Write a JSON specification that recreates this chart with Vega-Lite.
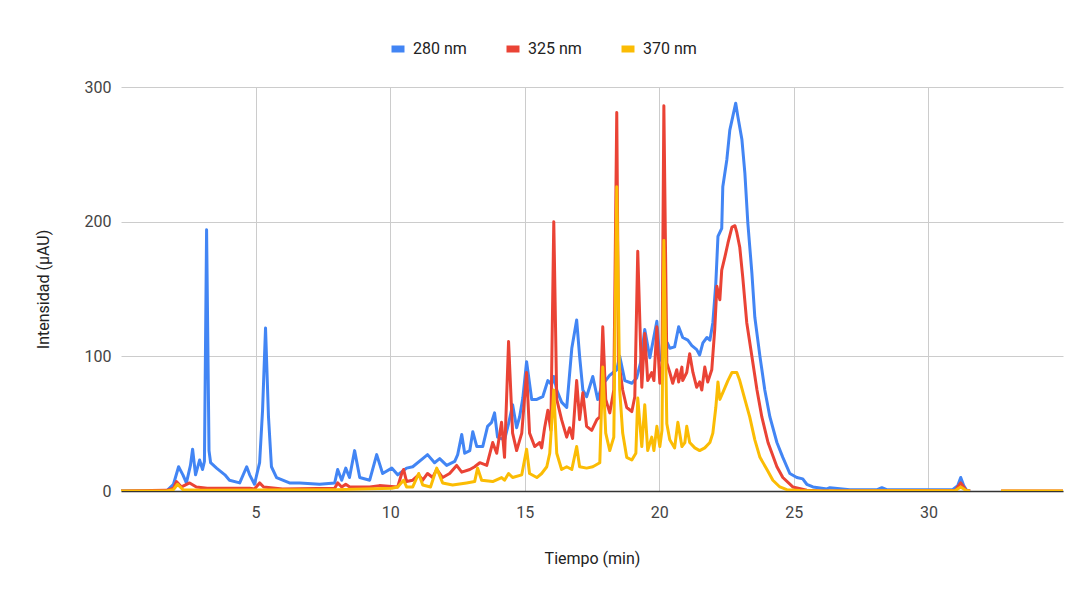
{
  "$schema": "https://vega.github.io/schema/vega-lite/v6.json",
  "width": 942,
  "height": 404,
  "autosize": {"type": "none"},
  "padding": {"left": 121, "top": 87, "right": 18, "bottom": 104},
  "background": "white",
  "config": {
    "font": "Roboto",
    "view": {"stroke": null}
  },
  "data": {"values": [
{"s":"280 nm","g":1,"t":0,"v":0},{"s":"280 nm","g":1,"t":1.69,"v":0},{"s":"280 nm","g":1,"t":1.95,"v":5},{"s":"280 nm","g":1,"t":2.14,"v":18},{"s":"280 nm","g":1,"t":2.3,"v":12},{"s":"280 nm","g":1,"t":2.43,"v":6},{"s":"280 nm","g":1,"t":2.58,"v":19},{"s":"280 nm","g":1,"t":2.66,"v":31},{"s":"280 nm","g":1,"t":2.77,"v":12},{"s":"280 nm","g":1,"t":2.92,"v":23},{"s":"280 nm","g":1,"t":3.03,"v":16},{"s":"280 nm","g":1,"t":3.1,"v":22},{"s":"280 nm","g":1,"t":3.18,"v":194},{"s":"280 nm","g":1,"t":3.27,"v":30},{"s":"280 nm","g":1,"t":3.33,"v":21},{"s":"280 nm","g":1,"t":3.55,"v":17},{"s":"280 nm","g":1,"t":3.86,"v":12},{"s":"280 nm","g":1,"t":4.03,"v":8},{"s":"280 nm","g":1,"t":4.41,"v":6},{"s":"280 nm","g":1,"t":4.67,"v":18},{"s":"280 nm","g":1,"t":4.78,"v":12},{"s":"280 nm","g":1,"t":4.96,"v":5},{"s":"280 nm","g":1,"t":5.15,"v":21},{"s":"280 nm","g":1,"t":5.26,"v":60},{"s":"280 nm","g":1,"t":5.37,"v":121},{"s":"280 nm","g":1,"t":5.48,"v":55},{"s":"280 nm","g":1,"t":5.59,"v":18},{"s":"280 nm","g":1,"t":5.78,"v":10},{"s":"280 nm","g":1,"t":6.26,"v":6},{"s":"280 nm","g":1,"t":6.64,"v":6},{"s":"280 nm","g":1,"t":7.38,"v":5},{"s":"280 nm","g":1,"t":7.94,"v":6},{"s":"280 nm","g":1,"t":8.05,"v":16},{"s":"280 nm","g":1,"t":8.2,"v":8},{"s":"280 nm","g":1,"t":8.35,"v":17},{"s":"280 nm","g":1,"t":8.49,"v":10},{"s":"280 nm","g":1,"t":8.68,"v":30},{"s":"280 nm","g":1,"t":8.87,"v":10},{"s":"280 nm","g":1,"t":9.24,"v":8},{"s":"280 nm","g":1,"t":9.5,"v":27},{"s":"280 nm","g":1,"t":9.72,"v":13},{"s":"280 nm","g":1,"t":10.06,"v":17},{"s":"280 nm","g":1,"t":10.28,"v":12},{"s":"280 nm","g":1,"t":10.35,"v":13},{"s":"280 nm","g":1,"t":10.61,"v":17},{"s":"280 nm","g":1,"t":10.84,"v":18},{"s":"280 nm","g":1,"t":11.21,"v":24},{"s":"280 nm","g":1,"t":11.39,"v":27},{"s":"280 nm","g":1,"t":11.65,"v":21},{"s":"280 nm","g":1,"t":11.84,"v":24},{"s":"280 nm","g":1,"t":12.1,"v":19},{"s":"280 nm","g":1,"t":12.4,"v":22},{"s":"280 nm","g":1,"t":12.51,"v":27},{"s":"280 nm","g":1,"t":12.66,"v":42},{"s":"280 nm","g":1,"t":12.77,"v":28},{"s":"280 nm","g":1,"t":12.96,"v":30},{"s":"280 nm","g":1,"t":13.07,"v":44},{"s":"280 nm","g":1,"t":13.22,"v":33},{"s":"280 nm","g":1,"t":13.44,"v":33},{"s":"280 nm","g":1,"t":13.62,"v":48},{"s":"280 nm","g":1,"t":13.77,"v":51},{"s":"280 nm","g":1,"t":13.88,"v":58},{"s":"280 nm","g":1,"t":13.99,"v":40},{"s":"280 nm","g":1,"t":14.25,"v":38},{"s":"280 nm","g":1,"t":14.4,"v":50},{"s":"280 nm","g":1,"t":14.55,"v":64},{"s":"280 nm","g":1,"t":14.7,"v":47},{"s":"280 nm","g":1,"t":14.81,"v":55},{"s":"280 nm","g":1,"t":14.93,"v":69},{"s":"280 nm","g":1,"t":15.07,"v":96},{"s":"280 nm","g":1,"t":15.26,"v":68},{"s":"280 nm","g":1,"t":15.45,"v":68},{"s":"280 nm","g":1,"t":15.67,"v":70},{"s":"280 nm","g":1,"t":15.86,"v":82},{"s":"280 nm","g":1,"t":16.0,"v":79},{"s":"280 nm","g":1,"t":16.08,"v":85},{"s":"280 nm","g":1,"t":16.19,"v":75},{"s":"280 nm","g":1,"t":16.37,"v":66},{"s":"280 nm","g":1,"t":16.56,"v":62},{"s":"280 nm","g":1,"t":16.75,"v":106},{"s":"280 nm","g":1,"t":16.93,"v":127},{"s":"280 nm","g":1,"t":17.04,"v":100},{"s":"280 nm","g":1,"t":17.16,"v":75},{"s":"280 nm","g":1,"t":17.3,"v":70},{"s":"280 nm","g":1,"t":17.53,"v":85},{"s":"280 nm","g":1,"t":17.71,"v":68},{"s":"280 nm","g":1,"t":17.9,"v":80},{"s":"280 nm","g":1,"t":18.01,"v":82},{"s":"280 nm","g":1,"t":18.16,"v":86},{"s":"280 nm","g":1,"t":18.42,"v":90},{"s":"280 nm","g":1,"t":18.53,"v":100},{"s":"280 nm","g":1,"t":18.72,"v":82},{"s":"280 nm","g":1,"t":18.98,"v":80},{"s":"280 nm","g":1,"t":19.16,"v":84},{"s":"280 nm","g":1,"t":19.3,"v":95},{"s":"280 nm","g":1,"t":19.46,"v":120},{"s":"280 nm","g":1,"t":19.65,"v":99},{"s":"280 nm","g":1,"t":19.91,"v":126},{"s":"280 nm","g":1,"t":20.02,"v":97},{"s":"280 nm","g":1,"t":20.17,"v":100},{"s":"280 nm","g":1,"t":20.3,"v":110},{"s":"280 nm","g":1,"t":20.39,"v":106},{"s":"280 nm","g":1,"t":20.57,"v":107},{"s":"280 nm","g":1,"t":20.72,"v":122},{"s":"280 nm","g":1,"t":20.87,"v":114},{"s":"280 nm","g":1,"t":21.06,"v":112},{"s":"280 nm","g":1,"t":21.21,"v":108},{"s":"280 nm","g":1,"t":21.39,"v":105},{"s":"280 nm","g":1,"t":21.5,"v":101},{"s":"280 nm","g":1,"t":21.62,"v":110},{"s":"280 nm","g":1,"t":21.77,"v":114},{"s":"280 nm","g":1,"t":21.88,"v":112},{"s":"280 nm","g":1,"t":21.99,"v":125},{"s":"280 nm","g":1,"t":22.1,"v":154},{"s":"280 nm","g":1,"t":22.18,"v":189},{"s":"280 nm","g":1,"t":22.32,"v":195},{"s":"280 nm","g":1,"t":22.36,"v":226},{"s":"280 nm","g":1,"t":22.51,"v":246},{"s":"280 nm","g":1,"t":22.62,"v":268},{"s":"280 nm","g":1,"t":22.73,"v":278},{"s":"280 nm","g":1,"t":22.84,"v":288},{"s":"280 nm","g":1,"t":22.92,"v":278},{"s":"280 nm","g":1,"t":23.07,"v":261},{"s":"280 nm","g":1,"t":23.18,"v":236},{"s":"280 nm","g":1,"t":23.29,"v":199},{"s":"280 nm","g":1,"t":23.44,"v":162},{"s":"280 nm","g":1,"t":23.55,"v":129},{"s":"280 nm","g":1,"t":23.74,"v":100},{"s":"280 nm","g":1,"t":23.92,"v":75},{"s":"280 nm","g":1,"t":24.11,"v":55},{"s":"280 nm","g":1,"t":24.37,"v":36},{"s":"280 nm","g":1,"t":24.59,"v":25},{"s":"280 nm","g":1,"t":24.85,"v":13},{"s":"280 nm","g":1,"t":25.11,"v":10},{"s":"280 nm","g":1,"t":25.33,"v":9},{"s":"280 nm","g":1,"t":25.48,"v":5},{"s":"280 nm","g":1,"t":25.71,"v":3},{"s":"280 nm","g":1,"t":26.23,"v":1.5},{"s":"280 nm","g":1,"t":26.34,"v":2.5},{"s":"280 nm","g":1,"t":27.08,"v":1},{"s":"280 nm","g":1,"t":28.1,"v":1},{"s":"280 nm","g":1,"t":28.27,"v":2.5},{"s":"280 nm","g":1,"t":28.45,"v":1},{"s":"280 nm","g":1,"t":30.9,"v":1},{"s":"280 nm","g":1,"t":31.09,"v":4},{"s":"280 nm","g":1,"t":31.2,"v":10},{"s":"280 nm","g":1,"t":31.31,"v":4},{"s":"280 nm","g":1,"t":31.42,"v":0.5},{"s":"280 nm","g":1,"t":31.55,"v":0},
{"s":"325 nm","g":1,"t":0,"v":0},{"s":"325 nm","g":1,"t":1.69,"v":0.5},{"s":"325 nm","g":1,"t":1.95,"v":2},{"s":"325 nm","g":1,"t":2.06,"v":7},{"s":"325 nm","g":1,"t":2.25,"v":3},{"s":"325 nm","g":1,"t":2.55,"v":6},{"s":"325 nm","g":1,"t":2.8,"v":3},{"s":"325 nm","g":1,"t":3.2,"v":2},{"s":"325 nm","g":1,"t":4.78,"v":2},{"s":"325 nm","g":1,"t":4.96,"v":1.5},{"s":"325 nm","g":1,"t":5.15,"v":6},{"s":"325 nm","g":1,"t":5.3,"v":3},{"s":"325 nm","g":1,"t":6.0,"v":1.5},{"s":"325 nm","g":1,"t":7.94,"v":2},{"s":"325 nm","g":1,"t":8.05,"v":6},{"s":"325 nm","g":1,"t":8.2,"v":3},{"s":"325 nm","g":1,"t":8.35,"v":5},{"s":"325 nm","g":1,"t":8.5,"v":3},{"s":"325 nm","g":1,"t":9.24,"v":3},{"s":"325 nm","g":1,"t":9.6,"v":4},{"s":"325 nm","g":1,"t":10.28,"v":3},{"s":"325 nm","g":1,"t":10.43,"v":13},{"s":"325 nm","g":1,"t":10.5,"v":16},{"s":"325 nm","g":1,"t":10.61,"v":7},{"s":"325 nm","g":1,"t":10.84,"v":8},{"s":"325 nm","g":1,"t":11.06,"v":12},{"s":"325 nm","g":1,"t":11.21,"v":8},{"s":"325 nm","g":1,"t":11.39,"v":13},{"s":"325 nm","g":1,"t":11.58,"v":10},{"s":"325 nm","g":1,"t":11.73,"v":16},{"s":"325 nm","g":1,"t":11.95,"v":10},{"s":"325 nm","g":1,"t":12.21,"v":13},{"s":"325 nm","g":1,"t":12.47,"v":19},{"s":"325 nm","g":1,"t":12.66,"v":14},{"s":"325 nm","g":1,"t":12.96,"v":16},{"s":"325 nm","g":1,"t":13.14,"v":18},{"s":"325 nm","g":1,"t":13.33,"v":21},{"s":"325 nm","g":1,"t":13.59,"v":19},{"s":"325 nm","g":1,"t":13.81,"v":36},{"s":"325 nm","g":1,"t":13.96,"v":28},{"s":"325 nm","g":1,"t":14.14,"v":51},{"s":"325 nm","g":1,"t":14.25,"v":25},{"s":"325 nm","g":1,"t":14.4,"v":111},{"s":"325 nm","g":1,"t":14.55,"v":43},{"s":"325 nm","g":1,"t":14.7,"v":30},{"s":"325 nm","g":1,"t":14.89,"v":43},{"s":"325 nm","g":1,"t":15.07,"v":88},{"s":"325 nm","g":1,"t":15.18,"v":43},{"s":"325 nm","g":1,"t":15.37,"v":33},{"s":"325 nm","g":1,"t":15.56,"v":36},{"s":"325 nm","g":1,"t":15.63,"v":32},{"s":"325 nm","g":1,"t":15.74,"v":47},{"s":"325 nm","g":1,"t":15.86,"v":60},{"s":"325 nm","g":1,"t":15.97,"v":45},{"s":"325 nm","g":1,"t":16.08,"v":200},{"s":"325 nm","g":1,"t":16.19,"v":68},{"s":"325 nm","g":1,"t":16.37,"v":53},{"s":"325 nm","g":1,"t":16.56,"v":40},{"s":"325 nm","g":1,"t":16.67,"v":47},{"s":"325 nm","g":1,"t":16.78,"v":39},{"s":"325 nm","g":1,"t":16.93,"v":82},{"s":"325 nm","g":1,"t":17.04,"v":53},{"s":"325 nm","g":1,"t":17.16,"v":73},{"s":"325 nm","g":1,"t":17.3,"v":48},{"s":"325 nm","g":1,"t":17.49,"v":45},{"s":"325 nm","g":1,"t":17.68,"v":53},{"s":"325 nm","g":1,"t":17.79,"v":55},{"s":"325 nm","g":1,"t":17.9,"v":122},{"s":"325 nm","g":1,"t":18.01,"v":68},{"s":"325 nm","g":1,"t":18.16,"v":58},{"s":"325 nm","g":1,"t":18.31,"v":75},{"s":"325 nm","g":1,"t":18.42,"v":281},{"s":"325 nm","g":1,"t":18.49,"v":97},{"s":"325 nm","g":1,"t":18.64,"v":75},{"s":"325 nm","g":1,"t":18.79,"v":62},{"s":"325 nm","g":1,"t":18.98,"v":59},{"s":"325 nm","g":1,"t":19.09,"v":70},{"s":"325 nm","g":1,"t":19.2,"v":178},{"s":"325 nm","g":1,"t":19.35,"v":77},{"s":"325 nm","g":1,"t":19.46,"v":117},{"s":"325 nm","g":1,"t":19.57,"v":82},{"s":"325 nm","g":1,"t":19.72,"v":88},{"s":"325 nm","g":1,"t":19.8,"v":82},{"s":"325 nm","g":1,"t":19.91,"v":122},{"s":"325 nm","g":1,"t":20.02,"v":80},{"s":"325 nm","g":1,"t":20.1,"v":90},{"s":"325 nm","g":1,"t":20.17,"v":286},{"s":"325 nm","g":1,"t":20.28,"v":95},{"s":"325 nm","g":1,"t":20.39,"v":88},{"s":"325 nm","g":1,"t":20.5,"v":80},{"s":"325 nm","g":1,"t":20.65,"v":90},{"s":"325 nm","g":1,"t":20.72,"v":81},{"s":"325 nm","g":1,"t":20.84,"v":92},{"s":"325 nm","g":1,"t":20.87,"v":82},{"s":"325 nm","g":1,"t":21.02,"v":88},{"s":"325 nm","g":1,"t":21.13,"v":102},{"s":"325 nm","g":1,"t":21.25,"v":88},{"s":"325 nm","g":1,"t":21.39,"v":77},{"s":"325 nm","g":1,"t":21.5,"v":81},{"s":"325 nm","g":1,"t":21.58,"v":75},{"s":"325 nm","g":1,"t":21.69,"v":92},{"s":"325 nm","g":1,"t":21.8,"v":81},{"s":"325 nm","g":1,"t":21.95,"v":90},{"s":"325 nm","g":1,"t":22.06,"v":120},{"s":"325 nm","g":1,"t":22.14,"v":152},{"s":"325 nm","g":1,"t":22.25,"v":142},{"s":"325 nm","g":1,"t":22.32,"v":164},{"s":"325 nm","g":1,"t":22.44,"v":174},{"s":"325 nm","g":1,"t":22.55,"v":184},{"s":"325 nm","g":1,"t":22.7,"v":196},{"s":"325 nm","g":1,"t":22.81,"v":197},{"s":"325 nm","g":1,"t":22.88,"v":192},{"s":"325 nm","g":1,"t":22.99,"v":181},{"s":"325 nm","g":1,"t":23.1,"v":159},{"s":"325 nm","g":1,"t":23.25,"v":125},{"s":"325 nm","g":1,"t":23.44,"v":100},{"s":"325 nm","g":1,"t":23.63,"v":75},{"s":"325 nm","g":1,"t":23.81,"v":55},{"s":"325 nm","g":1,"t":24.04,"v":36},{"s":"325 nm","g":1,"t":24.37,"v":18},{"s":"325 nm","g":1,"t":24.59,"v":10},{"s":"325 nm","g":1,"t":24.96,"v":3},{"s":"325 nm","g":1,"t":25.48,"v":0.5},{"s":"325 nm","g":1,"t":26.0,"v":0},{"s":"325 nm","g":1,"t":31.0,"v":0.5},{"s":"325 nm","g":1,"t":31.2,"v":6},{"s":"325 nm","g":1,"t":31.4,"v":0.5},{"s":"325 nm","g":1,"t":31.55,"v":0},
{"s":"370 nm","g":1,"t":0,"v":0},{"s":"370 nm","g":1,"t":1.69,"v":0},{"s":"370 nm","g":1,"t":1.95,"v":1},{"s":"370 nm","g":1,"t":2.1,"v":5},{"s":"370 nm","g":1,"t":2.3,"v":1},{"s":"370 nm","g":1,"t":3.0,"v":0.5},{"s":"370 nm","g":1,"t":8.0,"v":1},{"s":"370 nm","g":1,"t":10.06,"v":2},{"s":"370 nm","g":1,"t":10.28,"v":3},{"s":"370 nm","g":1,"t":10.5,"v":8},{"s":"370 nm","g":1,"t":10.61,"v":3},{"s":"370 nm","g":1,"t":10.84,"v":3},{"s":"370 nm","g":1,"t":11.06,"v":13},{"s":"370 nm","g":1,"t":11.21,"v":4.5},{"s":"370 nm","g":1,"t":11.5,"v":3},{"s":"370 nm","g":1,"t":11.73,"v":17},{"s":"370 nm","g":1,"t":11.95,"v":6},{"s":"370 nm","g":1,"t":12.32,"v":4.5},{"s":"370 nm","g":1,"t":12.84,"v":6},{"s":"370 nm","g":1,"t":13.14,"v":7},{"s":"370 nm","g":1,"t":13.25,"v":17},{"s":"370 nm","g":1,"t":13.4,"v":8},{"s":"370 nm","g":1,"t":13.81,"v":7},{"s":"370 nm","g":1,"t":14.14,"v":10},{"s":"370 nm","g":1,"t":14.25,"v":8},{"s":"370 nm","g":1,"t":14.4,"v":13},{"s":"370 nm","g":1,"t":14.55,"v":10},{"s":"370 nm","g":1,"t":14.89,"v":12},{"s":"370 nm","g":1,"t":15.07,"v":31},{"s":"370 nm","g":1,"t":15.18,"v":13},{"s":"370 nm","g":1,"t":15.45,"v":10},{"s":"370 nm","g":1,"t":15.63,"v":13},{"s":"370 nm","g":1,"t":15.82,"v":18},{"s":"370 nm","g":1,"t":15.93,"v":28},{"s":"370 nm","g":1,"t":16.08,"v":75},{"s":"370 nm","g":1,"t":16.19,"v":28},{"s":"370 nm","g":1,"t":16.37,"v":16},{"s":"370 nm","g":1,"t":16.56,"v":18},{"s":"370 nm","g":1,"t":16.75,"v":16},{"s":"370 nm","g":1,"t":16.93,"v":33},{"s":"370 nm","g":1,"t":17.04,"v":18},{"s":"370 nm","g":1,"t":17.3,"v":17},{"s":"370 nm","g":1,"t":17.53,"v":18},{"s":"370 nm","g":1,"t":17.79,"v":21},{"s":"370 nm","g":1,"t":17.9,"v":92},{"s":"370 nm","g":1,"t":18.01,"v":43},{"s":"370 nm","g":1,"t":18.16,"v":30},{"s":"370 nm","g":1,"t":18.31,"v":40},{"s":"370 nm","g":1,"t":18.42,"v":226},{"s":"370 nm","g":1,"t":18.53,"v":75},{"s":"370 nm","g":1,"t":18.64,"v":43},{"s":"370 nm","g":1,"t":18.79,"v":25},{"s":"370 nm","g":1,"t":18.98,"v":23},{"s":"370 nm","g":1,"t":19.13,"v":28},{"s":"370 nm","g":1,"t":19.2,"v":69},{"s":"370 nm","g":1,"t":19.35,"v":33},{"s":"370 nm","g":1,"t":19.46,"v":64},{"s":"370 nm","g":1,"t":19.57,"v":30},{"s":"370 nm","g":1,"t":19.72,"v":40},{"s":"370 nm","g":1,"t":19.8,"v":30},{"s":"370 nm","g":1,"t":19.91,"v":48},{"s":"370 nm","g":1,"t":20.02,"v":33},{"s":"370 nm","g":1,"t":20.1,"v":45},{"s":"370 nm","g":1,"t":20.17,"v":186},{"s":"370 nm","g":1,"t":20.28,"v":50},{"s":"370 nm","g":1,"t":20.39,"v":38},{"s":"370 nm","g":1,"t":20.57,"v":32},{"s":"370 nm","g":1,"t":20.69,"v":51},{"s":"370 nm","g":1,"t":20.84,"v":33},{"s":"370 nm","g":1,"t":20.95,"v":36},{"s":"370 nm","g":1,"t":21.02,"v":48},{"s":"370 nm","g":1,"t":21.13,"v":36},{"s":"370 nm","g":1,"t":21.32,"v":32},{"s":"370 nm","g":1,"t":21.5,"v":30},{"s":"370 nm","g":1,"t":21.69,"v":32},{"s":"370 nm","g":1,"t":21.88,"v":36},{"s":"370 nm","g":1,"t":21.99,"v":43},{"s":"370 nm","g":1,"t":22.1,"v":62},{"s":"370 nm","g":1,"t":22.18,"v":81},{"s":"370 nm","g":1,"t":22.25,"v":68},{"s":"370 nm","g":1,"t":22.36,"v":73},{"s":"370 nm","g":1,"t":22.55,"v":82},{"s":"370 nm","g":1,"t":22.7,"v":88},{"s":"370 nm","g":1,"t":22.88,"v":88},{"s":"370 nm","g":1,"t":22.99,"v":82},{"s":"370 nm","g":1,"t":23.18,"v":68},{"s":"370 nm","g":1,"t":23.36,"v":55},{"s":"370 nm","g":1,"t":23.55,"v":38},{"s":"370 nm","g":1,"t":23.74,"v":25},{"s":"370 nm","g":1,"t":24.0,"v":16},{"s":"370 nm","g":1,"t":24.22,"v":8},{"s":"370 nm","g":1,"t":24.48,"v":3},{"s":"370 nm","g":1,"t":24.74,"v":1},{"s":"370 nm","g":1,"t":25.22,"v":0.3},{"s":"370 nm","g":1,"t":26.0,"v":0},{"s":"370 nm","g":1,"t":31.0,"v":0.3},{"s":"370 nm","g":1,"t":31.2,"v":3},{"s":"370 nm","g":1,"t":31.4,"v":0.3},{"s":"370 nm","g":1,"t":31.55,"v":0},
{"s":"325 nm","g":2,"t":32.7,"v":0},{"s":"325 nm","g":2,"t":35,"v":0},
{"s":"370 nm","g":2,"t":32.7,"v":0},{"s":"370 nm","g":2,"t":35,"v":0}
  ]},
  "mark": {"type": "line", "strokeWidth": 3, "interpolate": "linear", "strokeJoin": "round", "clip": true},
  "encoding": {
    "x": {
      "field": "t", "type": "quantitative",
      "scale": {"domain": [0, 35], "nice": false, "zero": false},
      "axis": {
        "values": [5, 10, 15, 20, 25, 30],
        "title": "Tiempo (min)",
        "titleFont": "Roboto", "titleFontSize": 16, "titleFontWeight": "normal", "titleColor": "#222222",
        "titlePadding": 30,
        "labelFont": "Roboto", "labelFontSize": 16, "labelColor": "#444444", "labelPadding": 13,
        "ticks": false,
        "domain": true, "domainColor": "#333333", "domainWidth": 1.5,
        "grid": true, "gridColor": "#cccccc", "gridWidth": 1
      }
    },
    "y": {
      "field": "v", "type": "quantitative",
      "scale": {"domain": [0, 300], "nice": false},
      "axis": {
        "values": [0, 100, 200, 300],
        "title": "Intensidad (µAU)",
        "titleFont": "Roboto", "titleFontSize": 16, "titleFontWeight": "normal", "titleColor": "#222222",
        "titlePadding": 33,
        "labelFont": "Roboto", "labelFontSize": 16, "labelColor": "#444444", "labelPadding": 10,
        "ticks": false, "domain": false,
        "grid": true, "gridColor": "#cccccc", "gridWidth": 1
      }
    },
    "color": {
      "field": "s", "type": "nominal",
      "scale": {"domain": ["280 nm", "325 nm", "370 nm"], "range": ["#4285F4", "#EA4335", "#FBBC04"]},
      "legend": {
        "title": null,
        "orient": "none",
        "direction": "horizontal",
        "legendX": 267,
        "legendY": -48,
        "symbolType": "stroke",
        "symbolSize": 169,
        "symbolStrokeWidth": 7,
        "labelFont": "Roboto", "labelFontSize": 16, "labelColor": "#222222",
        "columnPadding": 25,
        "labelOffset": 5
      }
    },
    "detail": {"field": "g", "type": "nominal"}
  }
}
